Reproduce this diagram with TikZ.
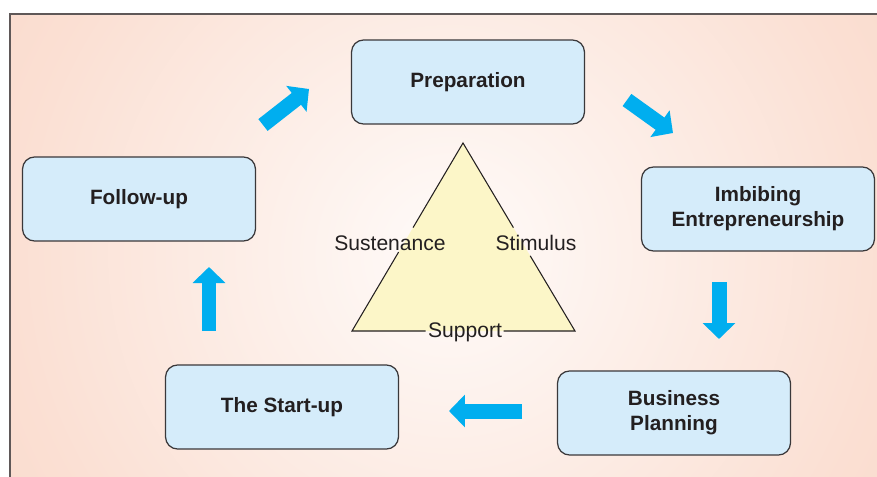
\documentclass[tikz,border=0pt]{standalone}
\usepackage{fontspec}
\setmainfont{Liberation Sans}
\usepackage{xcolor}
\usetikzlibrary{arrows.meta}
\usetikzlibrary{calc}

\definecolor{peach}{RGB}{248,204,184}
\definecolor{boxblue}{RGB}{213,236,250}
\definecolor{boxline}{RGB}{58,56,58}
\definecolor{flowcyan}{RGB}{0,174,239}
\definecolor{tripale}{RGB}{252,246,200}
\definecolor{inktext}{RGB}{35,31,32}
\definecolor{edgegray}{RGB}{95,88,88}
\colorlet{peachlo}{peach!8}
\colorlet{peachmid}{peach!62}

\pgfdeclareradialshading{glow}{\pgfpoint{0bp}{0bp}}{%
  color(0bp)=(peachlo); color(22bp)=(peachmid); color(45bp)=(peach)}

\begin{document}
\begin{tikzpicture}[
    x=0.02cm, y=-0.02cm,
    stage/.style={draw=boxline, line width=0.7pt, fill=boxblue,
      rounded corners=0.24cm, minimum width=4.66cm, minimum height=1.68cm,
      align=center, text=inktext, font=\fontsize{11.8}{14.2}\selectfont\bfseries},
    pillar/.style={text=inktext, inner sep=0pt, font=\fontsize{12}{14}\selectfont},
    flow/.style={draw=flowcyan, line width=0.3cm,
      -{Triangle[length=0.32cm, width=0.64cm]}},
  ]

  \useasboundingbox (0,0) rectangle (877,477);

  % backdrop
  \begin{scope}
    \clip (10,14) rectangle (877,477);
    \shade[shading=glow] (-50,-245) rectangle (950,755);
  \end{scope}
  \draw[edgegray, line width=1.1pt] (10,477) -- (10,14) -- (877,14);

  % the three S triangle
  \coordinate (apex) at (463,143);
  \coordinate (bl) at (352,331);
  \coordinate (br) at (575,331);
  \fill[tripale] (apex) -- (bl) -- (br) -- cycle;

  \node[pillar, anchor=base] (sust) at (390,250) {Sustenance};
  \node[pillar, anchor=base] (stim) at (536,250) {Stimulus};
  \node[pillar, anchor=base] (supp) at (465,337) {Support};

  \draw[inktext, line width=0.6pt]
    ($(apex)!0.58!(bl)$) -- (bl) -- ($(bl)!0.33!(br)$)
    ($(bl)!0.68!(br)$) -- (br) -- ($(br)!0.40!(apex)$)
    ($(br)!0.55!(apex)$) -- (apex) -- ($(apex)!0.45!(bl)$);

  % stages
  \node[stage] (prep)    at (468,82)  {Preparation};
  \node[stage] (imbibe)  at (758,209) {Imbibing\\Entrepreneurship};
  \node[stage] (plan)    at (674,413) {Business\\Planning};
  \node[stage] (startup) at (282,407) {The Start-up};
  \node[stage] (follow)  at (139,199) {Follow-up};

  % cycle arrows
  \coordinate (f1) at (263,125); \coordinate (t1) at (309,89);
  \coordinate (f2) at (627,100); \coordinate (t2) at (673,133);
  \coordinate (f3) at (719,282); \coordinate (t3) at (719,339);
  \coordinate (f4) at (522,411); \coordinate (t4) at (449,411);
  \coordinate (f5) at (209,331); \coordinate (t5) at (209,267);

  \draw[flow] (f1) -- (t1);
  \draw[flow] (f2) -- (t2);
  \draw[flow] (f3) -- (t3);
  \draw[flow] (f4) -- (t4);
  \draw[flow] (f5) -- (t5);

\end{tikzpicture}
\end{document}
